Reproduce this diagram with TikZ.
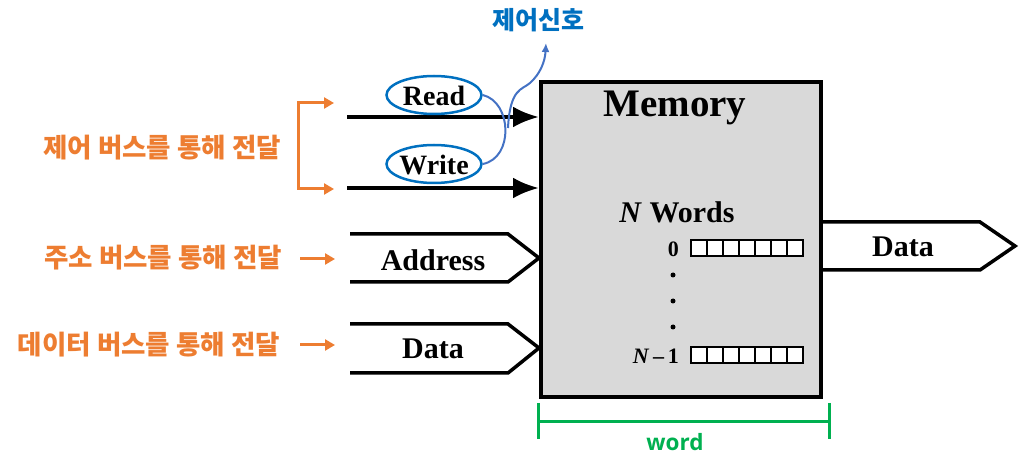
\documentclass[tikz,border=0pt]{standalone}
\usepackage{fontspec}
\setmainfont{Liberation Serif}
\newfontfamily\korfont{Noto Sans CJK KR}
\newfontfamily\wordfont{Open Sans}
\usetikzlibrary{arrows.meta,shapes.geometric}
\definecolor{noteorange}{RGB}{237,125,49}
\definecolor{ctrlblue}{RGB}{0,112,192}
\definecolor{curveblue}{RGB}{68,114,196}
\definecolor{wordgreen}{RGB}{0,176,80}
\definecolor{boxgray}{RGB}{217,217,217}
\tikzset{
	lbl/.style={black, inner sep=0pt, font=\bfseries\fontsize{30}{32}\selectfont},
	numlbl/.style={black, inner sep=0pt, font=\bfseries\fontsize{22}{24}\selectfont},
	note/.style={text=noteorange, inner sep=0pt, font=\korfont\bfseries\fontsize{26.5}{28}\selectfont},
	membox/.style={draw=black, line width=4pt, fill=boxgray, minimum width=280pt, minimum height=315pt, inner sep=0pt},
	sigoval/.style={ellipse, draw=ctrlblue, line width=2.5pt, minimum width=95pt, minimum height=38pt, inner sep=0pt},
	cell/.style={draw=black, line width=1.8pt, fill=white, minimum size=16pt, inner sep=0pt},
	dot/.style={circle, fill=black, minimum size=5pt, inner sep=0pt},
	bus/.style={draw=black, line width=3.5pt, line join=miter},
	sig/.style={draw=black, line width=4pt, -{Latex[length=26pt,width=21pt]}},
	orangearrow/.style={draw=noteorange, line width=3pt, -{Triangle[length=10pt,width=11pt]}},
	curve/.style={draw=curveblue, line width=2pt},
}
\begin{document}
\begin{tikzpicture}[x=1pt, y=-1pt]
		\useasboundingbox (0,0) rectangle (1021,470);
		% memory block
		\node[membox] (mem) at (681,239.5) {};
		\node[lbl, font=\bfseries\fontsize{39}{42}\selectfont] (memlbl) at (675,108) {Memory};
		\node[lbl] (words) at (677,212) {\textit{N} Words};
		\node[numlbl, anchor=east] (first) at (679,249) {0};
		\node[numlbl, anchor=east] (last) at (679,356) {\textit{N}\,–\,1};
		\foreach \i in {0,...,6} {
			\node[cell] (top\i) at (699+16*\i,248) {};
			\node[cell] (bot\i) at (699+16*\i,355) {};
		}
		\node[dot] (dota) at (673,275) {};
		\node[dot] (dotb) at (673,301) {};
		\node[dot] (dotc) at (673,327) {};
		% control lines
		\coordinate (rdin) at (347,117);
		\coordinate (wrin) at (347,188);
		\draw[sig] (rdin) -- (rdin -| mem.west);
		\draw[sig] (wrin) -- (wrin -| mem.west);
		\node[sigoval] (read) at (434,95) {};
		\node[lbl, font=\bfseries\fontsize{28}{30}\selectfont] (readlbl) at (434,96) {Read};
		\node[sigoval] (write) at (434,164) {};
		\node[lbl, font=\bfseries\fontsize{28}{30}\selectfont] (writelbl) at (434,165) {Write};
		\node[text=ctrlblue, inner sep=0pt, font=\korfont\bfseries\fontsize{25}{27}\selectfont] (ctrl) at (538,20) {제어신호};
		\coordinate (join) at (508,128);
		\coordinate (ctrltip) at (546,43);
		\draw[curve] (read.east) .. controls (512,102) and (514,158) .. (write.east);
		\draw[curve, -{Latex[length=9pt,width=8pt]}] (join) .. controls (510,88) and (522,90) .. (530,83) .. controls (540,74) and (545,62) .. (ctrltip);
		% buses
		\draw[bus] (350,234) -- (508,234) -- (mem.west |- 0,258) -- (508,282) -- (350,282);
		\node[lbl] (addr) at (433,260) {Address};
		\draw[bus] (350,324) -- (508,324) -- (mem.west |- 0,348) -- (508,373) -- (350,373);
		\node[lbl] (datain) at (433,349) {Data};
		\draw[bus] (mem.east |- 0,222) -- (980,222) -- (1015,246) -- (980,270) -- (mem.east |- 0,270);
		\node[lbl] (dataout) at (903,247) {Data};
		% notes
		\node[note] (ctrlnote) at (162,148) {제어 버스를 통해 전달};
		\node[note] (addrnote) at (163,258) {주소 버스를 통해 전달};
		\node[note] (datanote) at (149,345) {데이터 버스를 통해 전달};
		\coordinate (brtop) at (298,103);
		\coordinate (brbot) at (298,189);
		\draw[orangearrow, {Triangle[length=10pt,width=11pt]}-{Triangle[length=10pt,width=11pt]}] (brtop -| 334,0) -- (brtop) -- (brbot) -- (brbot -| 334,0);
		\draw[orangearrow] (300,259) -- (335,259);
		\draw[orangearrow] (300,345) -- (335,345);
		% word width
		\coordinate (wl) at (538,422);
		\coordinate (wr) at (829,422);
		\draw[wordgreen, line width=3pt] (wl) -- (wr);
		\draw[wordgreen, line width=3pt] (538,403) -- (538,439);
		\draw[wordgreen, line width=3pt] (829,403) -- (829,439);
		\node[text=wordgreen, inner sep=0pt, font=\wordfont\bfseries\fontsize{22.5}{24}\selectfont] (word) at (675,442) {word};
	\end{tikzpicture}
\end{document}
